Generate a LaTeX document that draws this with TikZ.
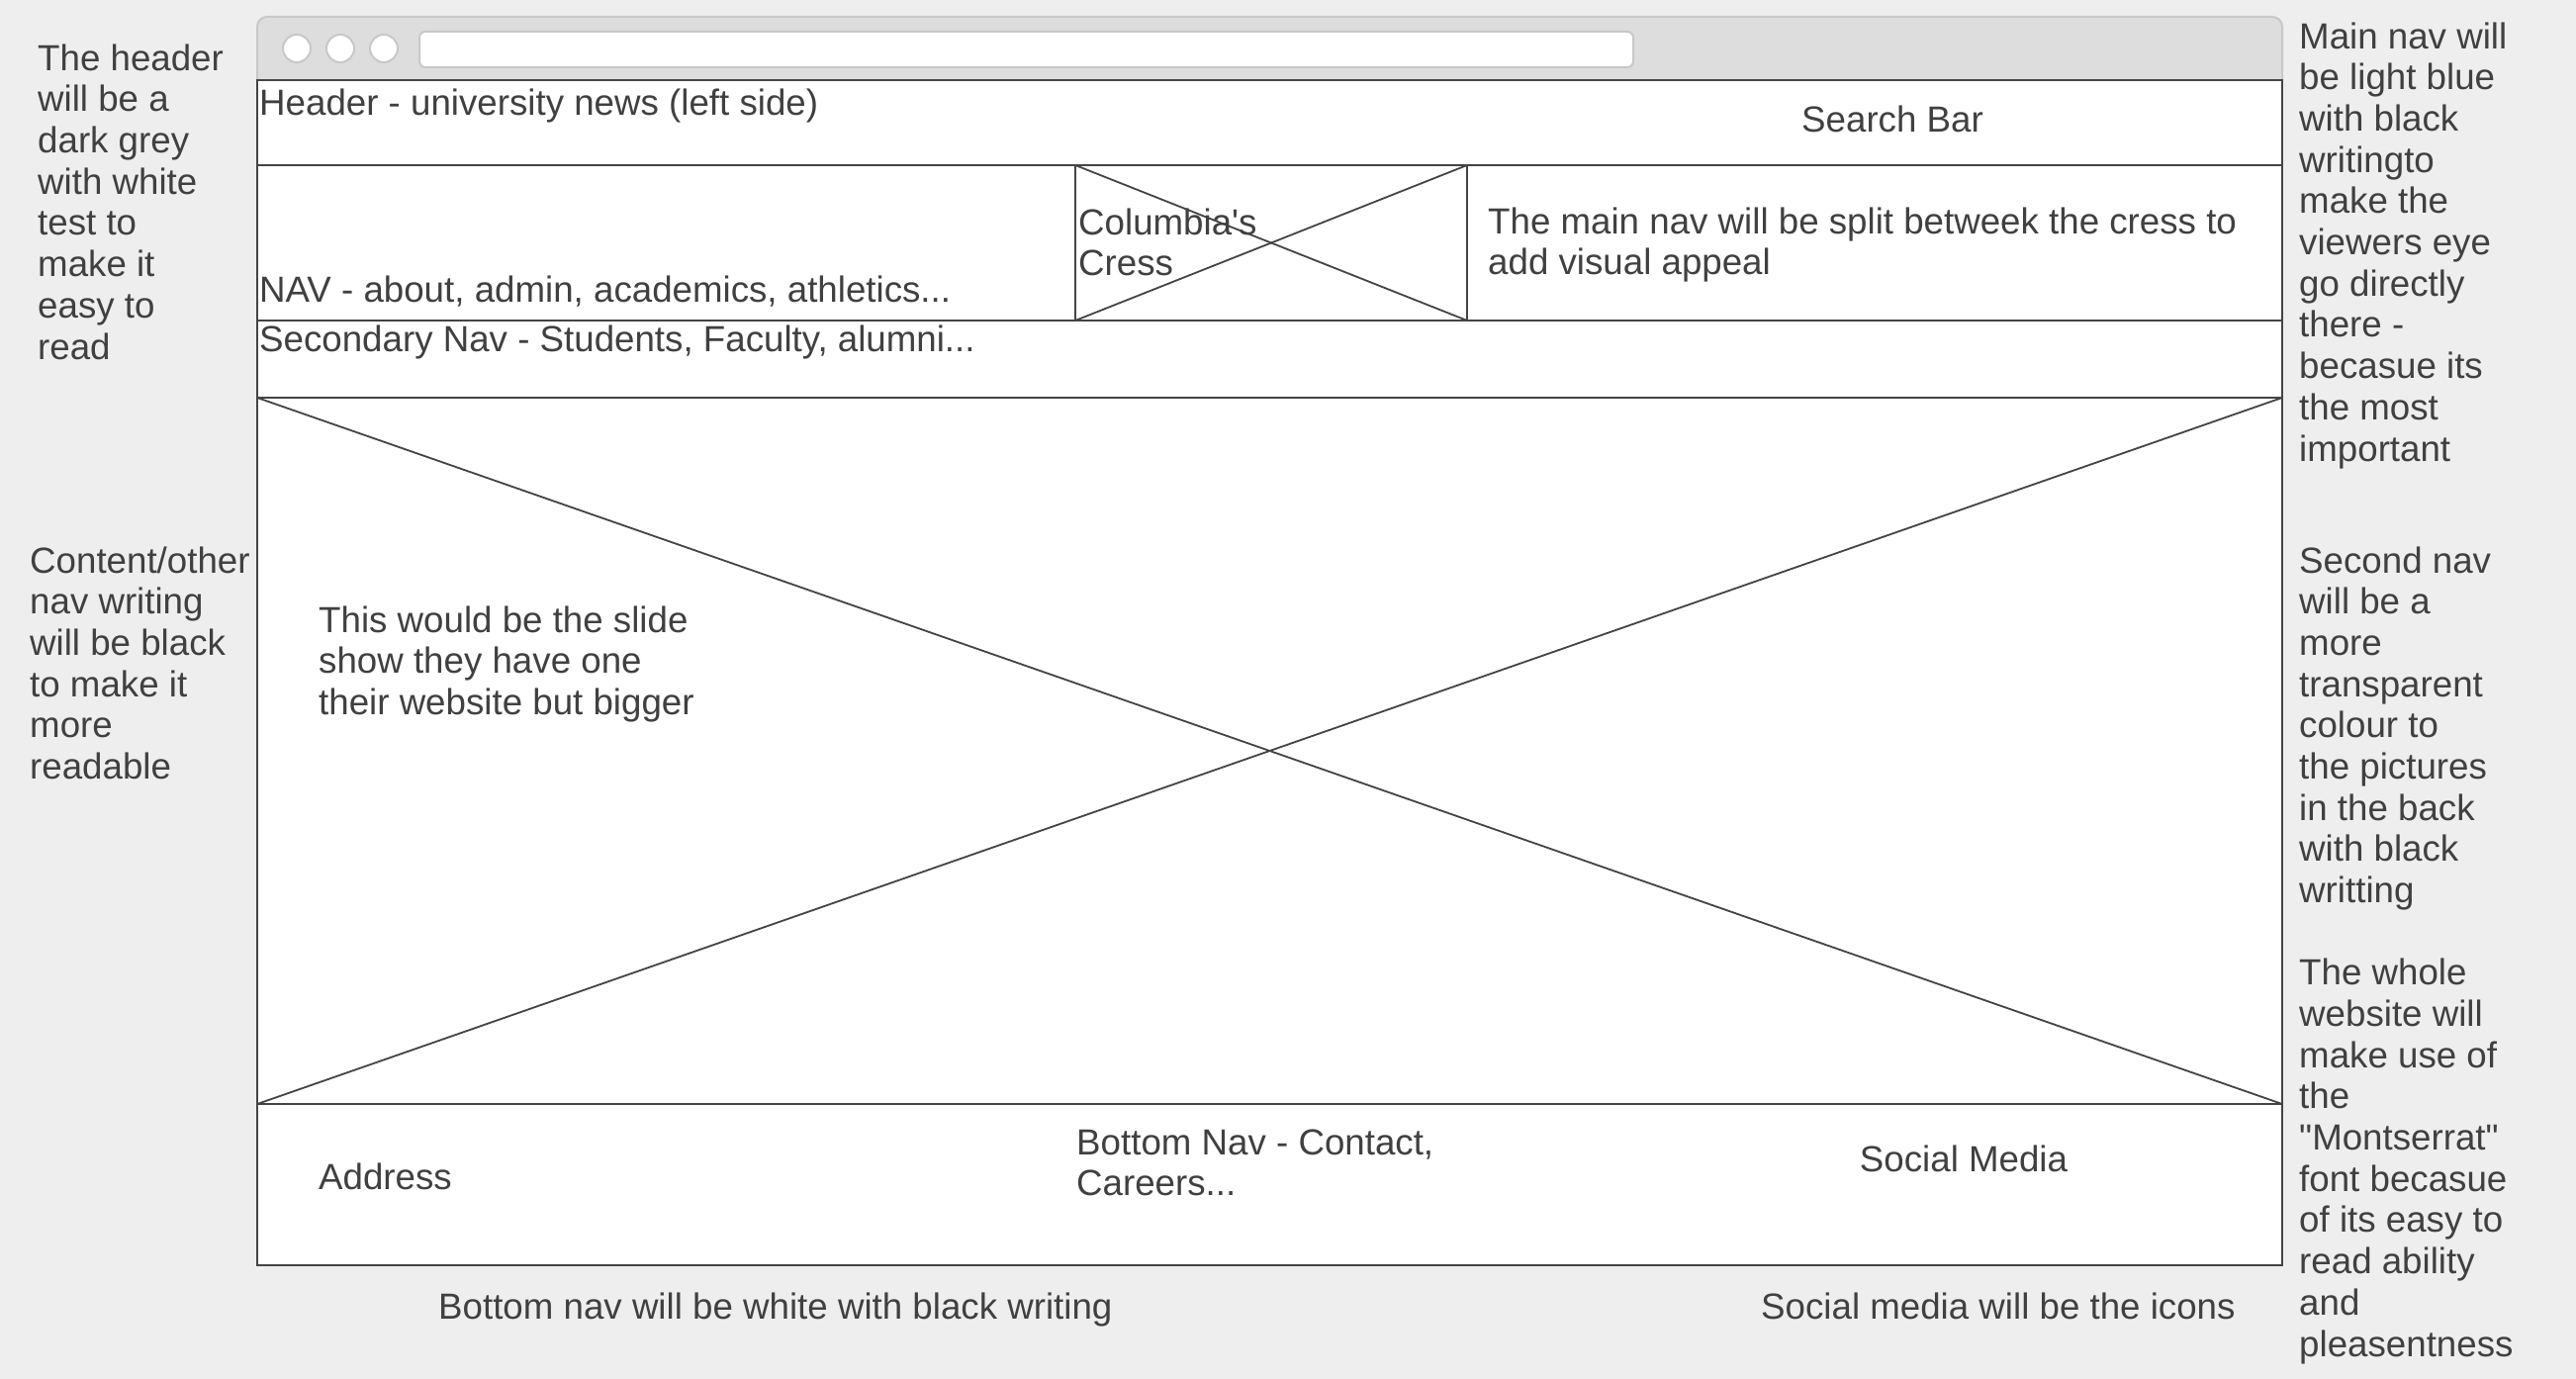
\documentclass[tikz,border=0pt]{standalone}
\usepackage{fontspec}
\setmainfont{Liberation Sans}[Ligatures=TeXOff]
\definecolor{bg}{HTML}{EEEEEE}
\definecolor{bar}{HTML}{DDDDDD}
\definecolor{barline}{HTML}{C8C8C8}
\definecolor{ink}{HTML}{404040}
\definecolor{edge}{HTML}{444444}
\begin{document}
\begin{tikzpicture}[x=1pt,y=-1pt,
  txt/.style={anchor=base west, inner sep=0pt, align=left, text=ink, font=\fontsize{36.7}{41.7}\selectfont},
  boxline/.style={draw=edge, line width=2pt},
  xline/.style={draw=edge, line width=1.8pt},
  dot/.style={circle, fill=white, draw=barline, line width=2pt, minimum size=28pt, inner sep=0pt}]
\useasboundingbox[fill=bg] (0,0) rectangle (2604,1394);
% browser bar
\path[fill=bar, draw=barline, line width=2pt, rounded corners=10pt] (260,81) -- (260,17) -- (2307,17) -- (2307,81);
\node[dot] (c1) at (300,49) {};
\node[dot] (c2) at (344,49) {};
\node[dot] (c3) at (388,49) {};
\draw[fill=white, draw=barline, line width=2pt, rounded corners=6pt] (424,32) rectangle (1651,68);
% frame
\coordinate (tl) at (260,81);
\coordinate (br) at (2307,1279);
\draw[boxline, fill=white] (tl) rectangle (br);
\coordinate (h1l) at (260,167); \coordinate (h1r) at (2307,167);
\coordinate (h2l) at (260,324); \coordinate (h2r) at (2307,324);
\coordinate (h3l) at (260,402); \coordinate (h3r) at (2307,402);
\coordinate (h4l) at (260,1116); \coordinate (h4r) at (2307,1116);
\draw[boxline] (h1l) -- (h1r);
\draw[boxline] (h2l) -- (h2r);
\draw[boxline] (h3l) -- (h3r);
\draw[boxline] (h4l) -- (h4r);
% cress box
\coordinate (ctl) at (1087,167); \coordinate (cbr) at (1483,324);
\coordinate (ctr) at (1483,167); \coordinate (cbl) at (1087,324);
\draw[boxline] (ctl) rectangle (cbr);
\draw[xline] (ctl) -- (cbr);
\draw[xline] (cbl) -- (ctr);
% big cross
\draw[xline] (h3l) -- (h4r);
\draw[xline] (h4l) -- (h3r);
% texts inside (anchor = baseline of last line)
\node[txt] (hdr) at (262,117) {Header - university news (left side)};
\node[txt, anchor=base] (search) at (1913,134) {Search Bar};
\node[txt] (nav) at (262,305) {NAV - about, admin, academics, athletics...};
\node[txt] (cress) at (1090,278.7) {Columbia's\\Cress};
\node[txt] (split) at (1504,277.7) {The main nav will be split betweek the cress to\\add visual appeal};
\node[txt] (sec) at (262,355) {Secondary Nav - Students, Faculty, alumni...};
\node[txt] (slide) at (322,722.4) {This would be the slide\\show they have one\\their website but bigger};
\node[txt] (addr) at (322,1202) {Address};
\node[txt] (bnav) at (1088,1208.7) {Bottom Nav - Contact,\\Careers...};
\node[txt, anchor=base] (social) at (1985,1184) {Social Media};
% notes outside
\node[txt] (n1) at (38,363) {The header\\will be a\\dark grey\\with white\\test to\\make it\\easy to\\read};
\node[txt] (n2) at (30,787.5) {Content/other\\nav writing\\will be black\\to make it\\more\\readable};
\node[txt] (n3) at (2324,466) {Main nav will\\be light blue\\with black\\writingto\\make the\\viewers eye\\go directly\\there -\\becasue its\\the most\\important};
\node[txt] (n4) at (2324,912.6) {Second nav\\will be a\\more\\transparent\\colour to\\the pictures\\in the back\\with black\\writting};
\node[txt] (n5) at (2324,1371) {The whole\\website will\\make use of\\the\\"Montserrat"\\font becasue\\of its easy to\\read ability\\and\\pleasentness};
\node[txt] (n6) at (443,1333) {Bottom nav will be white with black writing};
\node[txt] (n7) at (1780,1333) {Social media will be the icons};
\end{tikzpicture}
\end{document}
